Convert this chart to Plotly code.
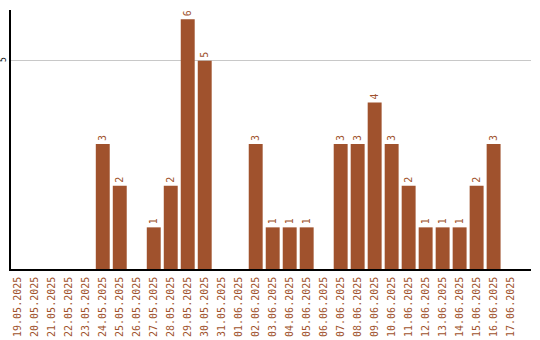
import plotly.graph_objects as go

dates = ["19.05.2025","20.05.2025","21.05.2025","22.05.2025","23.05.2025","24.05.2025",
         "25.05.2025","26.05.2025","27.05.2025","28.05.2025","29.05.2025","30.05.2025",
         "31.05.2025","01.06.2025","02.06.2025","03.06.2025","04.06.2025","05.06.2025",
         "06.06.2025","07.06.2025","08.06.2025","09.06.2025","10.06.2025","11.06.2025",
         "12.06.2025","13.06.2025","14.06.2025","15.06.2025","16.06.2025","17.06.2025"]
values = [0,0,0,0,0,3,2,0,1,2,6,5,0,0,3,1,1,1,0,3,3,4,3,2,1,1,1,2,3,0]

color = "#a0522d"
labels = [str(v) if v > 0 else "" for v in values]

fig = go.Figure(go.Bar(
    x=list(range(len(dates))), y=values, marker_color=color, marker_line_width=0,
    width=0.82, text=labels, textposition="outside", textangle=-90,
    textfont=dict(family="DejaVu Sans Mono", size=10, color=color),
    cliponaxis=False,
))
fig.update_layout(
    width=540, height=340, margin=dict(l=11, r=9, t=10, b=71, autoexpand=False),
    plot_bgcolor="white", paper_bgcolor="white", showlegend=False, bargap=0.18,
    font=dict(family="DejaVu Sans Mono", size=10),
)
fig.update_xaxes(
    tickmode="array", tickvals=list(range(len(dates))), ticktext=dates,
    tickangle=-90, tickfont=dict(color=color, size=10, family="DejaVu Sans Mono"),
    range=[-0.4, 30.2], showline=True, linecolor="black", linewidth=1.5,
    showgrid=False, ticks="", zeroline=False, automargin=False, ticklabelstandoff=2,
)
fig.update_yaxes(
    range=[0, 6.22], tickvals=[5], ticktext=["5"], tickangle=-90,
    tickfont=dict(color="black", size=8, family="DejaVu Sans Mono"),
    showline=True, linecolor="black", linewidth=1.5, showgrid=True,
    gridcolor="#c8c8c8", gridwidth=1, zeroline=False, ticks="", ticklabelstandoff=0,
    automargin=False,
)
fig.write_html("out.html")
